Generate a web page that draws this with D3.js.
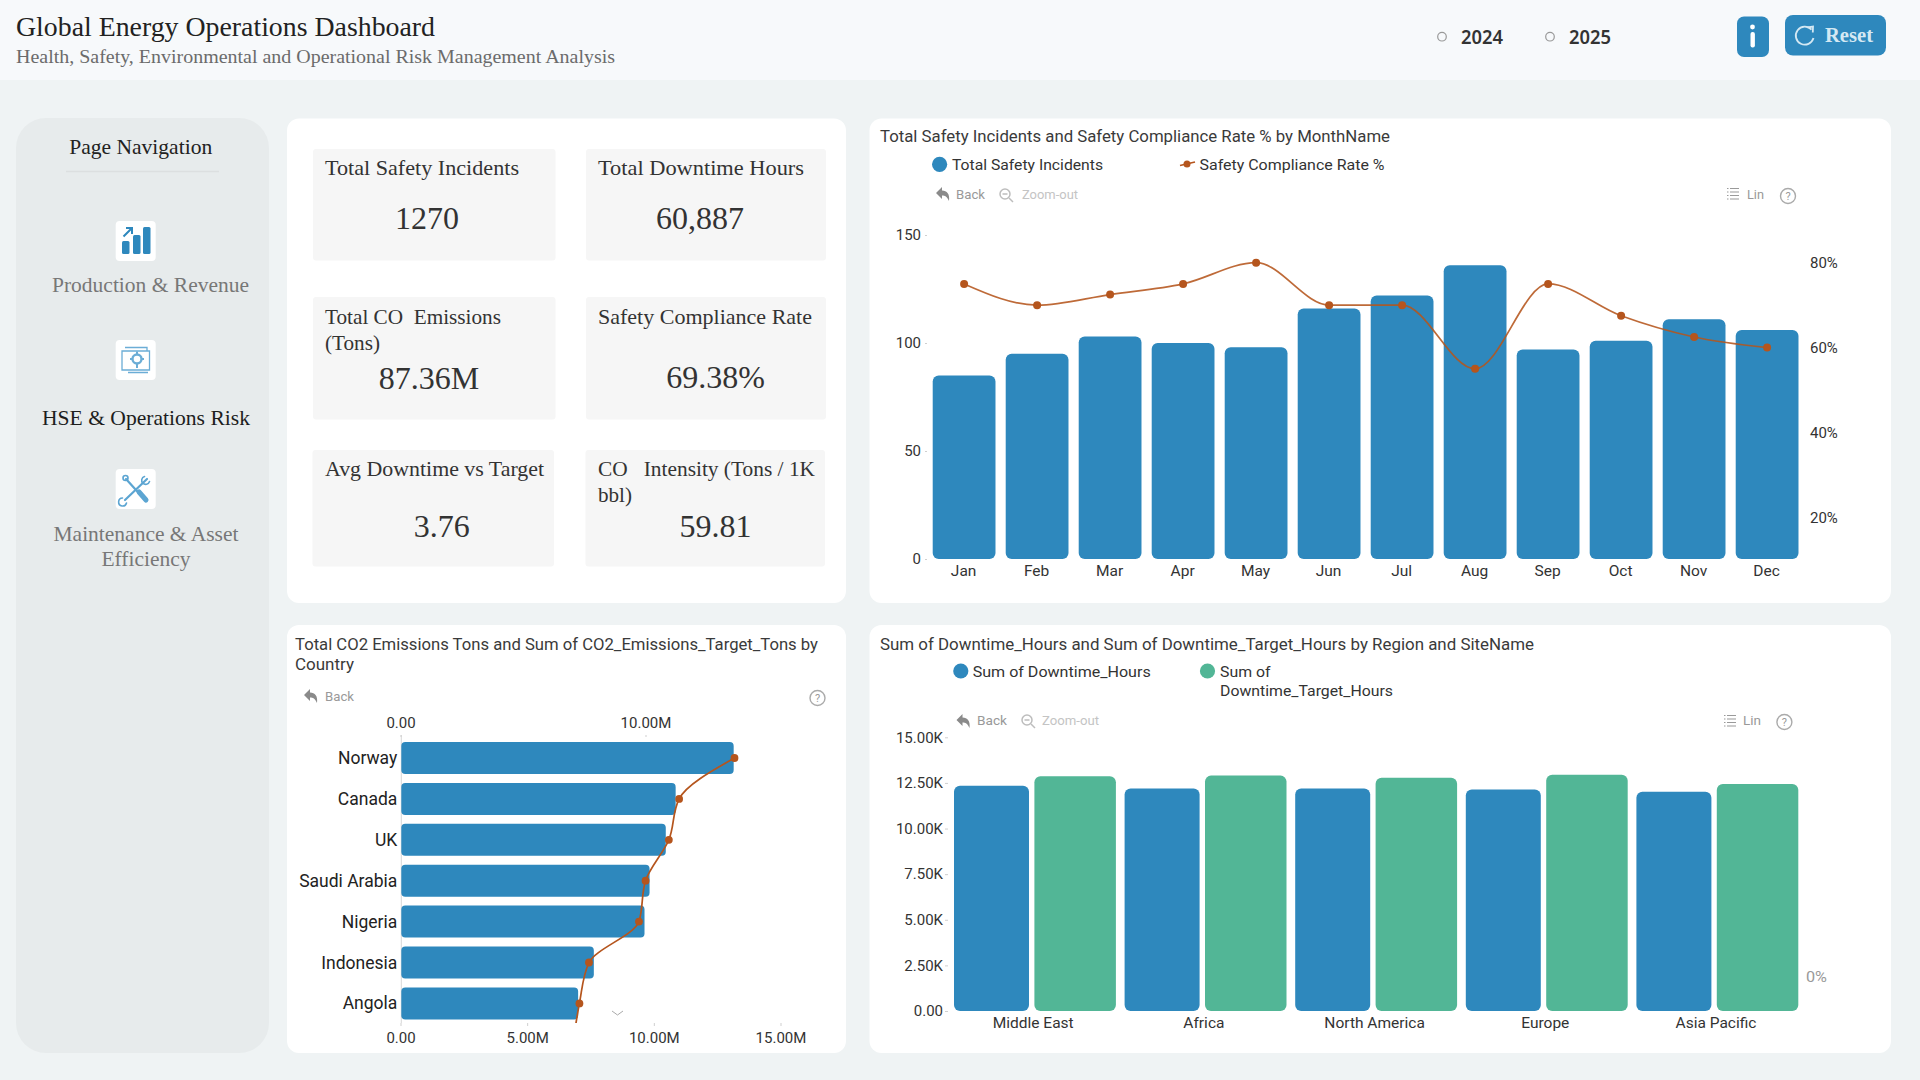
<!DOCTYPE html>
<html>
<head>
<meta charset="utf-8">
<title>Global Energy Operations Dashboard</title>
<script src="https://cdn.jsdelivr.net/npm/d3@7/dist/d3.min.js"></script>
<style>
html,body{margin:0;padding:0;background:#eff3f4;overflow:hidden}
svg{display:block}
text{white-space:pre}
</style>
</head>
<body>
<svg id="board" width="1920" height="1080"></svg>
<script>
// Monthly safety figures
const months = ["Jan","Feb","Mar","Apr","May","Jun","Jul","Aug","Sep","Oct","Nov","Dec"];
const incidents = [85,95,103,100,98,116,122,136,97,101,111,106];
const complianceRate = [75,70,72.5,75,80,70,70,55,75,67.5,62.5,60];
const incidentTicks = [0,50,100,150];
const complianceTicks = [20,40,60,80];

// CO2 by country, in millions of tons (the list scrolls past Angola)
const countries = ["Norway","Canada","UK","Saudi Arabia","Nigeria","Indonesia","Angola"];
const co2Emissions = [13.12,10.83,10.44,9.8,9.6,7.6,6.98];
const co2Targets = [13.6,11.34,10.92,9.97,9.7,7.66,7.27,7.0];
const co2BottomTicks = [0,5,10,15];
const co2TopTicks = [0,10];

// Downtime by region, in hours
const regions = ["Middle East","Africa","North America","Europe","Asia Pacific"];
const downtimeHours = [12340,12190,12200,12137,12020];
const downtimeTargets = [12860,12900,12790,12950,12440];
const downtimeTicks = [0,2500,5000,7500,10000,12500,15000];

// KPI cards
const kpiTitles = [["Total Safety Incidents"],["Total Downtime Hours"],["Total CO  Emissions","(Tons)"],["Safety Compliance Rate"],["Avg Downtime vs Target"],["CO   Intensity (Tons / 1K","bbl)"]];
const kpiValues = ["1270","60,887","87.36M","69.38%","3.76","59.81"];

const BLUE = "#2e88bd", GREEN = "#52b696", RUST = "#b5551d";
const SERIF = "'Liberation Serif',serif";
const SANS = "Roboto,'Noto Sans',sans-serif";
const svg = d3.select("#board");

// Text helper; width stretches the run to an exact length
function label(parent, x, y, str, o = {}) {
  const t = parent.append("text").attr("x", x).attr("y", y).text(str)
    .attr("dominant-baseline", "central")
    .attr("text-anchor", o.anchor || "start")
    .attr("font-family", o.font || SANS)
    .attr("font-size", o.size || 15)
    .attr("font-weight", o.weight || 400)
    .attr("fill", o.fill || "#333");
  if (o.width) t.attr("textLength", o.width).attr("lengthAdjust", "spacingAndGlyphs");
  return t;
}
function panel(x, y, w, h, r, fill) {
  svg.append("rect").attr("x", x).attr("y", y).attr("width", w).attr("height", h).attr("rx", r).attr("fill", fill);
}

// Small toolbar glyphs
function backIcon(x, y) {
  svg.append("path").attr("transform", `translate(${x},${y})`)
    .attr("d", "M-7,-1 L-1,-7 L-1,-3.5 C4,-3.5 7,0 6,7 C4,2.5 2,1.5 -1,1.5 L-1,5 Z").attr("fill", "#8a8a8a");
}
function zoomIcon(x, y) {
  const g = svg.append("g").attr("transform", `translate(${x},${y})`).attr("fill", "none").attr("stroke", "#bdbdbd").attr("stroke-width", 1.5);
  g.append("circle").attr("cx", -1).attr("cy", -1).attr("r", 5);
  g.append("path").attr("d", "M3,3 L7,7 M-3.5,-1 H1.5");
}
function listIcon(x, y) {
  const g = svg.append("g").attr("transform", `translate(${x},${y})`).attr("stroke", "#9a9a9a").attr("stroke-width", 1.2);
  [-5.5, -2, 1.5, 5].forEach(d => {
    g.append("path").attr("d", `M-6,${d} H-4.5 M-3,${d} H6`);
  });
}
function helpIcon(x, y) {
  svg.append("circle").attr("cx", x).attr("cy", y).attr("r", 7.5).attr("fill", "none").attr("stroke", "#aaa").attr("stroke-width", 1.4);
  label(svg, x, y + .5, "?", {anchor: "middle", size: 11, fill: "#999"});
}
function styleAxis(g) {
  g.select(".domain").remove();
  g.selectAll(".tick line").attr("stroke", "#cfcfcf");
  g.selectAll(".tick text").attr("font-family", SANS).attr("font-size", 15).attr("fill", "#333");
}

/* ---------- header ---------- */
panel(0, 0, 1920, 80, 0, "#f7f9fb");
label(svg, 16, 26.7, "Global Energy Operations Dashboard", {font: SERIF, size: 28, fill: "#222", width: 419});
label(svg, 16, 56.8, "Health, Safety, Environmental and Operational Risk Management Analysis", {font: SERIF, size: 19, fill: "#6b6b6b", width: 599});
[["2024", 1442, 1461], ["2025", 1550, 1569]].forEach(([yr, cx, tx]) => {
  svg.append("circle").attr("cx", cx).attr("cy", 36.7).attr("r", 4.3).attr("fill", "#f7f9fb").attr("stroke", "#999").attr("stroke-width", 1.2);
  label(svg, tx, 37, yr, {font: "'Noto Sans',sans-serif", weight: 600, size: 19, fill: "#333", width: 42});
});
panel(1737, 16.5, 32, 40.5, 7, BLUE);
svg.append("circle").attr("cx", 1752.5).attr("cy", 27).attr("r", 2.4).attr("fill", "#fff");
svg.append("rect").attr("x", 1750.5).attr("y", 32).attr("width", 4.4).attr("height", 15.5).attr("rx", 2).attr("fill", "#fff");
panel(1785, 15, 101, 40.5, 8, BLUE);
svg.append("path").attr("d", "M1811.5,29.6 A9,9 0 1 0 1813.5,38").attr("fill", "none").attr("stroke", "#d4e8f3").attr("stroke-width", 1.8);
svg.append("path").attr("d", "M1807.5,27.5 L1813,26.5 L1812.8,32.5").attr("fill", "none").attr("stroke", "#d4e8f3").attr("stroke-width", 1.8);
label(svg, 1825, 35, "Reset", {font: SERIF, size: 20, fill: "#d4e8f3", width: 48, weight: 700});

/* ---------- navigation ---------- */
panel(16, 118, 253, 935, 30, "#e7ebec");
label(svg, 140.7, 147, "Page Navigation", {font: SERIF, size: 21, anchor: "middle", fill: "#222", width: 143});
svg.append("path").attr("d", "M66,171.5 H219").attr("stroke", "#dcdfe0").attr("stroke-width", 1.4);
[221, 340, 469].forEach(y => svg.append("rect").attr("x", 115.7).attr("y", y).attr("width", 40).attr("height", 40).attr("rx", 4).attr("fill", "#fff"));

// bars-and-arrow tile
const navBars = svg.append("g").attr("fill", BLUE);
[[122, 241, 13], [133, 235, 19], [143, 227, 27]].forEach(([x, y, h]) =>
  navBars.append("rect").attr("x", x).attr("y", y).attr("width", 7.5).attr("height", h).attr("rx", 1.5));
svg.append("path").attr("d", "M123.5,236.5 L131,229 M126,228 H132 V234").attr("fill", "none").attr("stroke", BLUE).attr("stroke-width", 2);

// gear-on-screen tile
const navGear = svg.append("g").attr("fill", "none").attr("stroke", "#6badd6").attr("stroke-width", 1.3);
navGear.append("path").attr("d", "M125,347.5 H147 V351 M122,351 H149.5 V370 H122 Z M128,372.5 H148");
navGear.append("circle").attr("cx", 137).attr("cy", 359).attr("r", 4.5).attr("stroke-width", 2.4);
navGear.append("path").attr("d", "M137,351.5 V354 M137,364 V368 M130,359 H132.5 M141.5,359 H144").attr("stroke-width", 2);

// crossed-tools tile
const navTools = svg.append("g").attr("fill", "none").attr("stroke", "#5ca5d2").attr("stroke-linecap", "round");
navTools.append("path").attr("d", "M126,479 L146,501").attr("stroke-width", 2.2);
navTools.append("path").attr("d", "M147,479 L125,500").attr("stroke-width", 2.2);
navTools.append("path").attr("d", "M139,492 L146,500").attr("stroke-width", 5);
navTools.append("circle").attr("cx", 125.5).attr("cy", 478).attr("r", 2.5).attr("stroke-width", 1.6);
navTools.append("path").attr("d", "M144.5,476.5 A4,4 0 1 0 149.5,481.5 M122.5,498 A4,4 0 1 0 126.5,503").attr("stroke-width", 1.6);

label(svg, 150.5, 284.7, "Production & Revenue", {font: SERIF, size: 21, anchor: "middle", fill: "#777", width: 197});
label(svg, 146, 418, "HSE & Operations Risk", {font: SERIF, size: 21, anchor: "middle", fill: "#1d1d1d", width: 208});
label(svg, 146, 534, "Maintenance & Asset", {font: SERIF, size: 21, anchor: "middle", fill: "#777", width: 185});
label(svg, 146, 559, "Efficiency", {font: SERIF, size: 21, anchor: "middle", fill: "#777", width: 89});

/* ---------- KPI panel ---------- */
panel(287, 118.5, 559, 484.5, 12, "#fff");
const kpiCards = [
  {x: 313, y: 149, w: 242.5, h: 111.5, tx: 325, ty: 168, vx: 427, vy: 217.5, tw: [194]},
  {x: 586, y: 149, w: 240, h: 111.5, tx: 598, ty: 168, vx: 700, vy: 217.5, tw: [206]},
  {x: 313, y: 297, w: 242.5, h: 122.5, tx: 325, ty: 316.5, vx: 429, vy: 378, tw: [176, 55]},
  {x: 586, y: 297, w: 240, h: 122.5, tx: 598, ty: 316.5, vx: 715.5, vy: 377, tw: [214]},
  {x: 312.5, y: 450, w: 241.5, h: 116.5, tx: 325, ty: 468.5, vx: 441.7, vy: 526, tw: [219]},
  {x: 585.5, y: 450, w: 239.5, h: 116.5, tx: 598, ty: 468.5, vx: 715.5, vy: 526, tw: [217, 34]}
];
kpiCards.forEach((c, i) => {
  panel(c.x, c.y, c.w, c.h, 3, "#f6f6f6");
  kpiTitles[i].forEach((line, j) =>
    label(svg, c.tx, c.ty + j * 26.7, line, {font: SERIF, size: 21.5, fill: "#333", width: c.tw[j]}));
  label(svg, c.vx, c.vy, kpiValues[i], {font: SERIF, size: 32, anchor: "middle", fill: "#333"});
});

/* ---------- incidents and compliance by month ---------- */
panel(869.5, 118.5, 1021.5, 484.5, 12, "#fff");
label(svg, 880, 136, "Total Safety Incidents and Safety Compliance Rate % by MonthName", {size: 16, fill: "#3a3a3a", width: 510});
svg.append("circle").attr("cx", 939.6).attr("cy", 164.3).attr("r", 7.6).attr("fill", BLUE);
label(svg, 952, 164.5, "Total Safety Incidents", {size: 15, width: 151});
svg.append("path").attr("d", "M1180,165.5 L1195,162").attr("stroke", RUST).attr("stroke-width", 1.6);
svg.append("circle").attr("cx", 1187).attr("cy", 164).attr("r", 3.5).attr("fill", RUST);
label(svg, 1199.5, 164.5, "Safety Compliance Rate %", {size: 15, width: 185});
backIcon(943, 194); label(svg, 956, 194.5, "Back", {size: 13, fill: "#999", width: 29});
zoomIcon(1006, 195); label(svg, 1022, 194.5, "Zoom-out", {size: 13, fill: "#c4c4c4", width: 56});
listIcon(1733, 194); label(svg, 1747, 194.5, "Lin", {size: 13, fill: "#999", width: 17});
helpIcon(1788, 196);

const xMonth = d3.scaleBand().domain(months).range([927.6, 1803.6]).paddingInner(0.14).paddingOuter(0.07);
const yIncidents = d3.scaleLinear().domain([0, 150]).range([559, 235]);
const yCompliance = d3.scaleLinear().domain([0, 100]).range([602.3, 177.8]);

svg.append("g").selectAll("rect").data(months).join("rect")
  .attr("x", d => xMonth(d))
  .attr("width", xMonth.bandwidth())
  .attr("y", (d, i) => yIncidents(incidents[i]))
  .attr("height", (d, i) => yIncidents(0) - yIncidents(incidents[i]))
  .attr("rx", 6).attr("fill", BLUE);

const complianceLine = d3.line()
  .x((d, i) => xMonth(months[i]) + xMonth.bandwidth() / 2)
  .y(d => yCompliance(d))
  .curve(d3.curveMonotoneX);
svg.append("path").attr("d", complianceLine(complianceRate)).attr("fill", "none").attr("stroke", RUST).attr("stroke-opacity", 0.88).attr("stroke-width", 1.7);
svg.append("g").selectAll("circle").data(complianceRate).join("circle")
  .attr("cx", (d, i) => xMonth(months[i]) + xMonth.bandwidth() / 2)
  .attr("cy", d => yCompliance(d))
  .attr("r", 4).attr("fill", RUST);

svg.append("g").attr("transform", "translate(927,0)")
  .call(d3.axisLeft(yIncidents).tickValues(incidentTicks).tickSize(2).tickPadding(4)).call(styleAxis);
svg.append("g").attr("transform", "translate(-0.5,559)")
  .call(d3.axisBottom(xMonth).tickSize(0).tickPadding(6)).call(styleAxis)
  .selectAll("text").attr("dy", null).attr("y", 11.8).attr("font-size", 15.5).attr("dominant-baseline", "central");
svg.append("g").attr("transform", "translate(1807,0)")
  .call(d3.axisRight(yCompliance).tickValues(complianceTicks).tickSize(0).tickPadding(3).tickFormat(d => d + "%")).call(styleAxis);

/* ---------- CO2 by country ---------- */
panel(287, 625, 559, 428, 12, "#fff");
label(svg, 295, 644, "Total CO2 Emissions Tons and Sum of CO2_Emissions_Target_Tons by", {size: 16, fill: "#3a3a3a", width: 523});
label(svg, 295, 664, "Country", {size: 16, fill: "#3a3a3a", width: 59});
backIcon(311, 696); label(svg, 325, 696, "Back", {size: 13, fill: "#999", width: 29});
helpIcon(817.5, 698);

const xEmission = d3.scaleLinear().domain([0, 15]).range([401.3, 781.3]);
const xTarget = d3.scaleLinear().domain([0, 10]).range([401.3, 646.3]);
const yCountry = d3.scalePoint().domain([...countries, "more"]).range([758, 1044.3]);

svg.append("defs").append("clipPath").attr("id", "co2-clip")
  .append("rect").attr("x", 401).attr("y", 735).attr("width", 430).attr("height", 288);
svg.append("path").attr("d", "M401.3,735 V1023").attr("stroke", "#d8d8d8");

svg.append("g").selectAll("rect").data(countries).join("rect")
  .attr("x", xEmission(0))
  .attr("y", d => yCountry(d) - 16)
  .attr("width", (d, i) => xEmission(co2Emissions[i]) - xEmission(0))
  .attr("height", 32).attr("rx", 4).attr("fill", BLUE);

const targetLine = d3.line()
  .x(d => xTarget(d))
  .y((d, i) => yCountry(yCountry.domain()[i]))
  .curve(d3.curveMonotoneY);
svg.append("path").attr("clip-path", "url(#co2-clip)").attr("d", targetLine(co2Targets))
  .attr("fill", "none").attr("stroke", RUST).attr("stroke-width", 1.7);
svg.append("g").selectAll("circle").data(countries).join("circle")
  .attr("cx", (d, i) => xTarget(co2Targets[i]))
  .attr("cy", d => yCountry(d))
  .attr("r", 3.9).attr("fill", RUST);

const fmtMillions = d => d === 0 ? "0.00" : d.toFixed(2) + "M";
svg.append("g").attr("transform", "translate(-0.8,737)")
  .call(d3.axisTop(xTarget).tickValues(co2TopTicks).tickSize(2).tickPadding(7).tickFormat(fmtMillions)).call(styleAxis);
svg.append("g").attr("transform", "translate(-0.8,1023)")
  .call(d3.axisBottom(xEmission).tickValues(co2BottomTicks).tickSize(3).tickPadding(6).tickFormat(fmtMillions)).call(styleAxis);
svg.append("g").attr("transform", "translate(401.3,0)")
  .call(d3.axisLeft(yCountry.copy().domain(countries).range([758, 1003.3])).tickSize(0).tickPadding(4)).call(styleAxis)
  .selectAll("text").attr("font-size", 17.5).attr("fill", "#222");
svg.append("path").attr("d", "M612,1011 L617.5,1015 L623,1011").attr("fill", "none").attr("stroke", "#aaa");

/* ---------- downtime by region ---------- */
panel(869.5, 625, 1021.5, 428, 12, "#fff");
label(svg, 880, 644, "Sum of Downtime_Hours and Sum of Downtime_Target_Hours by Region and SiteName", {size: 16, fill: "#3a3a3a", width: 654});
svg.append("circle").attr("cx", 960.8).attr("cy", 671).attr("r", 7.6).attr("fill", BLUE);
label(svg, 972.7, 671.5, "Sum of Downtime_Hours", {size: 15, width: 178});
svg.append("circle").attr("cx", 1207.5).attr("cy", 671).attr("r", 7.6).attr("fill", GREEN);
label(svg, 1220, 671.5, "Sum of", {size: 15, width: 50.5});
label(svg, 1220, 691, "Downtime_Target_Hours", {size: 15, width: 173});
backIcon(963.5, 721); label(svg, 977, 720.5, "Back", {size: 13, fill: "#999", width: 30});
zoomIcon(1028, 721); label(svg, 1042, 720.5, "Zoom-out", {size: 13, fill: "#c4c4c4", width: 57});
listIcon(1730, 721); label(svg, 1743, 720.5, "Lin", {size: 13, fill: "#999", width: 18});
helpIcon(1784.4, 722);

const xRegion = d3.scaleBand().domain(regions).range([954, 1807]).paddingInner(0).paddingOuter(0);
const yDowntime = d3.scaleLinear().domain([0, 15000]).range([1011, 737.3]);
const actualWidth = 75, targetGap = 5.4, targetWidth = 81.5;

svg.append("g").selectAll("rect").data(regions).join("rect")
  .attr("x", d => xRegion(d))
  .attr("width", actualWidth)
  .attr("y", (d, i) => yDowntime(downtimeHours[i]))
  .attr("height", (d, i) => yDowntime(0) - yDowntime(downtimeHours[i]))
  .attr("rx", 6).attr("fill", BLUE);
svg.append("g").selectAll("rect").data(regions).join("rect")
  .attr("x", d => xRegion(d) + actualWidth + targetGap)
  .attr("width", targetWidth)
  .attr("y", (d, i) => yDowntime(downtimeTargets[i]))
  .attr("height", (d, i) => yDowntime(0) - yDowntime(downtimeTargets[i]))
  .attr("rx", 6).attr("fill", GREEN);

svg.append("g").attr("transform", "translate(948,0)")
  .call(d3.axisLeft(yDowntime).tickValues(downtimeTicks).tickSize(3).tickPadding(2).tickFormat(d => (d / 1000).toFixed(2) + (d ? "K" : ""))).call(styleAxis);
svg.append("g").attr("transform", "translate(-1,1011)")
  .call(d3.axisBottom(d3.scalePoint().domain(regions).range([1033.7, 1033.7 + 170.7 * 4])).tickSize(0)).call(styleAxis)
  .selectAll("text").attr("dy", null).attr("y", 11.7).attr("font-size", 15.5).attr("dominant-baseline", "central");
label(svg, 1806, 976.7, "0%", {size: 15, fill: "#999", width: 21});
</script>
</body>
</html>
